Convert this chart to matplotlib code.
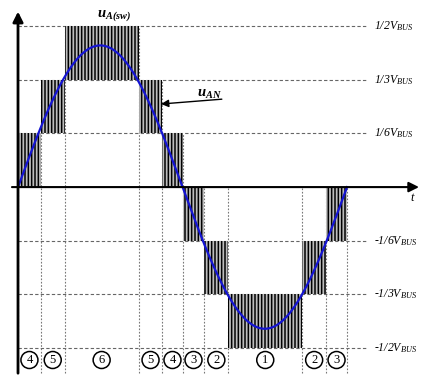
import numpy as np
import matplotlib.pyplot as plt

plt.rcParams['mathtext.fontset'] = 'custom'
plt.rcParams['mathtext.rm'] = 'Liberation Serif'
plt.rcParams['mathtext.it'] = 'Liberation Serif:italic'
plt.rcParams['mathtext.bf'] = 'Liberation Serif:italic:bold'
plt.rcParams['hatch.linewidth'] = 1.1

# switching segments (angle in degrees, levels in V_BUS)
seg_start = [0, 25, 51, 132, 158, 180, 204, 230, 311, 337]
seg_end = [25, 51, 132, 158, 180, 204, 230, 311, 337, 360]
seg_low = [0, 1/6, 1/3, 1/6, 0, -1/6, -1/3, -1/2, -1/3, -1/6]
seg_high = [1/6, 1/3, 1/2, 1/3, 1/6, 0, -1/6, -1/3, -1/6, 0]
seg_label = ['4', '5', '6', '5', '4', '3', '2', '1', '2', '3']

levels = [1/2, 1/3, 1/6, -1/6, -1/3, -1/2]
level_text = ['1/2$V_{BUS}$', '1/3$V_{BUS}$', '1/6$V_{BUS}$',
              '-1/6$V_{BUS}$', '-1/3$V_{BUS}$', '-1/2$V_{BUS}$']

amp = 0.44  # peak of u_AN

fig = plt.figure(figsize=(4.22, 3.79), dpi=100)
ax = fig.add_axes([0, 0, 1, 1])
ax.set_xlim(-19.7, 442)
ax.set_ylim(-0.596, 0.581)
ax.axis('off')

# dashed level lines
for lv, txt in zip(levels, level_text):
    ax.plot([0, 381], [lv, lv], color='#666666', lw=0.8, ls=(0, (3, 2)), zorder=1)
    ax.text(390, lv, txt, ha='left', va='center', fontsize=8.5,
            family='Liberation Serif', style='italic')

# vertical dotted boundaries
bottom = -0.578
for i, s in enumerate(seg_start + [360]):
    tops = []
    if i < len(seg_start):
        tops.append(seg_high[i])
    if i > 0:
        tops.append(seg_high[i - 1])
    top = max(max(tops), 0)
    ax.plot([s, s], [bottom, top], color='#777777', lw=0.8, ls=(0, (1.5, 1.5)), zorder=1)

# switching bars
for s, e, lo, hi in zip(seg_start, seg_end, seg_low, seg_high):
    ax.bar((s + e) / 2, hi - lo, bottom=lo, width=e - s, facecolor='#bdbdbd',
           edgecolor='black', hatch='|||||', lw=0, zorder=2)

# circled segment numbers
for s, e, lab in zip(seg_start, seg_end, seg_label):
    ax.text((s + e) / 2, -0.537, lab, ha='center', va='center', fontsize=9,
            family='Liberation Serif',
            bbox=dict(boxstyle='circle,pad=0.2', fc='white', ec='black', lw=1.1),
            zorder=4)

# u_AN sine
th = np.linspace(0, 360, 400)
ax.plot(th, amp * np.sin(np.radians(th)), color='#1414d2', lw=1.6, zorder=3)

# axes with arrows
ax.annotate('', xy=(438.7, 0), xytext=(-6.6, 0),
            arrowprops=dict(arrowstyle='-|>', color='black', lw=1.5,
                            mutation_scale=15, shrinkA=0, shrinkB=0), zorder=5)
ax.annotate('', xy=(0, 0.545), xytext=(0, -0.578),
            arrowprops=dict(arrowstyle='-|>', color='black', lw=2.0,
                            mutation_scale=15, shrinkA=0, shrinkB=0), zorder=5)
ax.text(432, -0.031, r'$t$', ha='center', va='center', fontsize=9)

# labels
ax.text(105, 0.532, r'$\mathbf{u}_{\mathbf{A(sw)}}$', ha='center', va='center', fontsize=10.5)
ax.text(209, 0.292, r'$\mathbf{u}_{\mathbf{AN}}$', ha='center', va='center', fontsize=10.5)
ax.annotate('', xy=(156.5, 0.258), xytext=(223, 0.273),
            arrowprops=dict(arrowstyle='-|>', color='black', lw=1.0,
                            mutation_scale=11, shrinkA=0, shrinkB=0), zorder=5)

fig.savefig('out.png', dpi=100)
